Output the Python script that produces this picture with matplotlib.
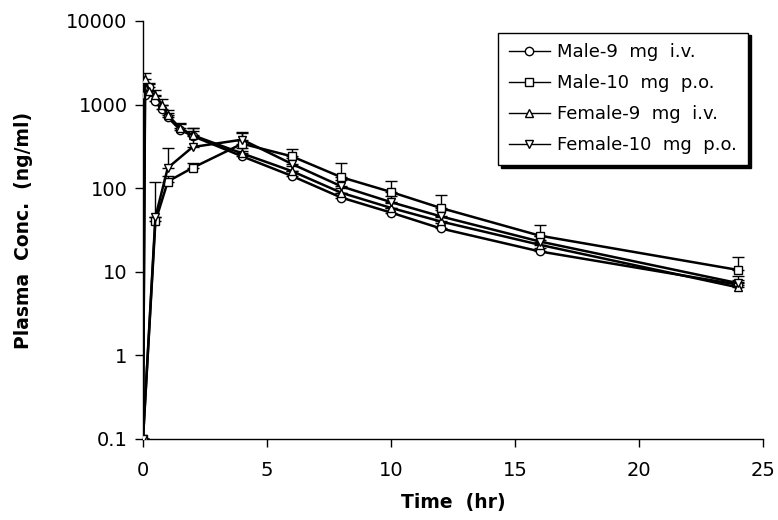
import matplotlib
matplotlib.use("Agg")
import matplotlib.pyplot as plt
import numpy as np
from matplotlib.ticker import FixedLocator, FixedFormatter, NullLocator

plt.rcParams['font.family'] = ['DejaVu Sans']

# sampling times (hr)
t_iv = [0, 0.083, 0.25, 0.5, 0.75, 1, 1.5, 2, 4, 6, 8, 10, 12, 16, 24]
t_po = [0, 0.5, 1, 2, 4, 6, 8, 10, 12, 16, 24]

# mean plasma concentrations (ng/ml), 0 plotted as 0.1
male_iv = [0.1, 1300, 1600, 1100, 880, 700, 500, 420, 240, 140, 77, 51, 33, 17.5, 7]
female_iv = [0.1, 2000, 1450, 1300, 1000, 750, 520, 430, 260, 160, 88, 58, 40, 21, 6.5]
male_po = [0.1, 40, 120, 175, 340, 240, 135, 90, 58, 27, 10.5]
female_po = [0.1, 45, 175, 310, 380, 195, 105, 68, 46, 23, 7.3]

# upper error bar ends
male_iv_top = [0.1, 1300, 1800, 1250, 1000, 800, 580, 480, 280, 160, 88, 58, 38, 19.5, 8]
female_iv_top = [0.1, 2350, 1750, 1500, 1150, 870, 600, 530, 300, 185, 100, 66, 45, 24, 7.5]
male_po_top = [0.1, 120, 140, 200, 470, 290, 200, 122, 83, 36, 15]
female_po_top = [0.1, 45, 300, 520, 460, 230, 125, 80, 55, 27, 9]

series = [
    ("Male-9  mg  i.v.", t_iv, male_iv, male_iv_top, "o"),
    ("Male-10  mg  p.o.", t_po, male_po, male_po_top, "s"),
    ("Female-9  mg  i.v.", t_iv, female_iv, female_iv_top, "^"),
    ("Female-10  mg  p.o.", t_po, female_po, female_po_top, "v"),
]

fig = plt.figure(figsize=(7.78, 5.2), dpi=100)
ax = fig.add_axes([0.1838, 0.1558, 0.7969, 0.804])

for label, t, y, top, m in series:
    y = np.array(y)
    err = np.array(top) - y
    ax.errorbar(t, y, yerr=[np.zeros_like(err), err], fmt="none",
                ecolor="black", elinewidth=1.0, capsize=4.5, capthick=1.0, zorder=2)
    ax.plot(t, y, color="black", lw=1.8, marker=m, markersize=6,
            markerfacecolor="white", markeredgecolor="black", markeredgewidth=1.0,
            label=label, zorder=3)

ax.set_yscale("log")
ax.set_ylim(0.1, 10000)
ax.set_xlim(0, 25)
yt = [0.1, 1, 10, 100, 1000, 10000]
ax.yaxis.set_major_locator(FixedLocator(yt))
ax.yaxis.set_major_formatter(FixedFormatter(["0.1", "1", "10", "100", "1000", "10000"]))
ax.yaxis.set_minor_locator(NullLocator())
ax.set_xticks([0, 5, 10, 15, 20, 25])

for s in ["top", "right"]:
    ax.spines[s].set_visible(False)
for s in ["left", "bottom"]:
    ax.spines[s].set_linewidth(1.0)
ax.tick_params(direction="out", length=6, width=1.0, labelsize=14)
ax.tick_params(axis="x", pad=10)
ax.tick_params(axis="y", pad=5)

ax.set_xlabel("Time  (hr)", fontsize=13.5, fontweight="bold", labelpad=9)
ax.set_ylabel("Plasma  Conc.  (ng/ml)", fontsize=13.5, fontweight="bold", labelpad=24)

leg = ax.legend(loc="upper right", bbox_to_anchor=(0.976, 0.972), fontsize=13,
                frameon=True, fancybox=False, shadow={"color": "black", "alpha": 1},
                handlelength=2.3, handletextpad=0.4, labelspacing=0.72,
                borderpad=0.6, borderaxespad=0)
leg.get_frame().set_edgecolor("black")
leg.get_frame().set_linewidth(1.0)
for h in leg.get_lines():
    h.set_linewidth(1.0)

fig.savefig("out.png", dpi=100)
